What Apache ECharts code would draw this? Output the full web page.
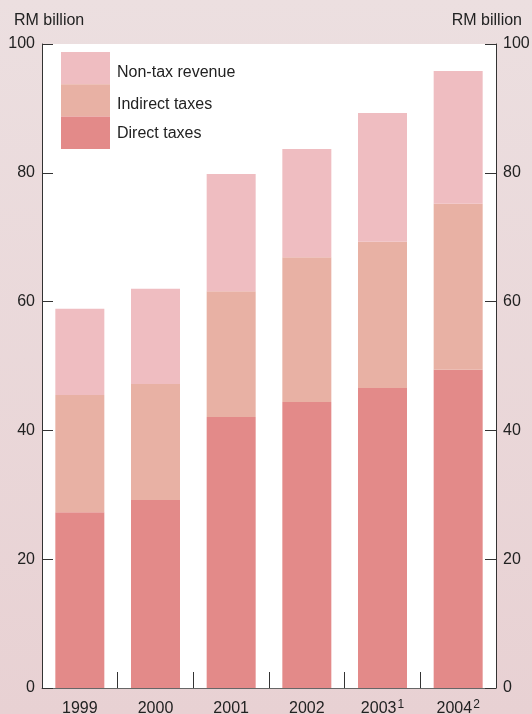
<!DOCTYPE html>
<html>
<head>
<meta charset="utf-8">
<script src="https://cdn.jsdelivr.net/npm/echarts@6/dist/echarts.min.js"></script>
<style>
  html, body { margin: 0; padding: 0; }
  #chart { width: 532px; height: 714px;
    background: linear-gradient(to bottom, #ecdfe0 0%, #e8d1d3 100%); }
</style>
</head>
<body>
<div id="chart"></div>
<script>
// Federal government revenue, RM billion
const years = ['1999', '2000', '2001', '2002', '2003', '2004'];
const yearNotes = ['', '', '', '', '1', '2'];
const directTaxes = [27.3, 29.2, 42.1, 44.4, 46.6, 49.4];
const indirectTaxes = [18.2, 18.0, 19.5, 22.5, 22.7, 25.8];
const nonTaxRevenue = [13.4, 14.8, 18.2, 16.8, 20.0, 20.6];
const yTicks = [0, 20, 40, 60, 80, 100];
const unitLabel = 'RM billion';

const colors = {
  direct: '#e38a89',
  indirect: '#e8b1a4',
  nontax: '#efbdc1'
};

const chart = echarts.init(document.getElementById('chart'));
const font = 'Liberation Sans, Arial, sans-serif';
const ink = '#222';

const yAxisBase = (pos) => ({
  type: 'value',
  position: pos,
  min: yTicks[0],
  max: yTicks[yTicks.length - 1],
  interval: 20,
  axisLine: { show: true, lineStyle: { color: '#333', width: 1 } },
  axisTick: { show: true, inside: true, length: 11, lineStyle: { color: '#333' } },
  axisLabel: { color: ink, fontSize: 16, fontFamily: font, margin: 7 },
  splitLine: { show: false }
});

chart.setOption({
  animation: false,
  grid: { left: 42, right: 36, top: 44, bottom: 26,
    containLabel: false, outerBoundsMode: 'none',
    show: true, backgroundColor: '#ffffff', borderWidth: 0 },
  graphic: [
    { type: 'text', left: 14, top: 13,
      style: { text: unitLabel, fill: ink, font: '16px ' + font } },
    { type: 'text', right: 10, top: 13,
      style: { text: unitLabel, fill: ink, font: '16px ' + font } }
  ],
  legend: {
    orient: 'vertical',
    left: 61, top: 52, padding: 0,
    itemWidth: 49, itemHeight: 32.3, itemGap: 0,
    icon: 'rect',
    data: ['Non-tax revenue', 'Indirect taxes', 'Direct taxes'],
    formatter: (name) => name === 'Direct taxes' ? '{d|' + name + '}' : '{t|' + name + '}',
    textStyle: {
      color: ink, fontSize: 16, fontFamily: font,
      rich: {
        t: { color: ink, fontSize: 16, fontFamily: font, padding: [8, 0, 0, 2] },
        d: { color: ink, fontSize: 16, fontFamily: font, padding: [2, 0, 0, 2] }
      }
    }
  },
  xAxis: {
    type: 'category',
    data: years,
    axisLine: { show: true, lineStyle: { color: '#666', width: 1 } },
    axisTick: { show: true, inside: true, length: 16, interval: 0,
      lineStyle: { color: '#333' } },
    axisLabel: {
      interval: 0, margin: 11,
      formatter: (v, i) => '{y|' + v + '}' + (yearNotes[i] ? '{sup|' + yearNotes[i] + '}' : ''),
      rich: {
        y: { fontSize: 16, fontFamily: font, color: ink, lineHeight: 18, verticalAlign: 'bottom' },
        sup: { fontSize: 12, fontFamily: font, color: ink, lineHeight: 18, verticalAlign: 'top', padding: [0, 0, 11, 1] }
      }
    }
  },
  yAxis: [yAxisBase('left'), yAxisBase('right')],
  series: [
    { name: 'Direct taxes', type: 'bar', stack: 'rev', barWidth: 49,
      itemStyle: { color: colors.direct }, data: directTaxes },
    { name: 'Indirect taxes', type: 'bar', stack: 'rev', barWidth: 49,
      itemStyle: { color: colors.indirect }, data: indirectTaxes },
    { name: 'Non-tax revenue', type: 'bar', stack: 'rev', barWidth: 49,
      itemStyle: { color: colors.nontax }, data: nonTaxRevenue }
  ]
});
</script>
</body>
</html>
